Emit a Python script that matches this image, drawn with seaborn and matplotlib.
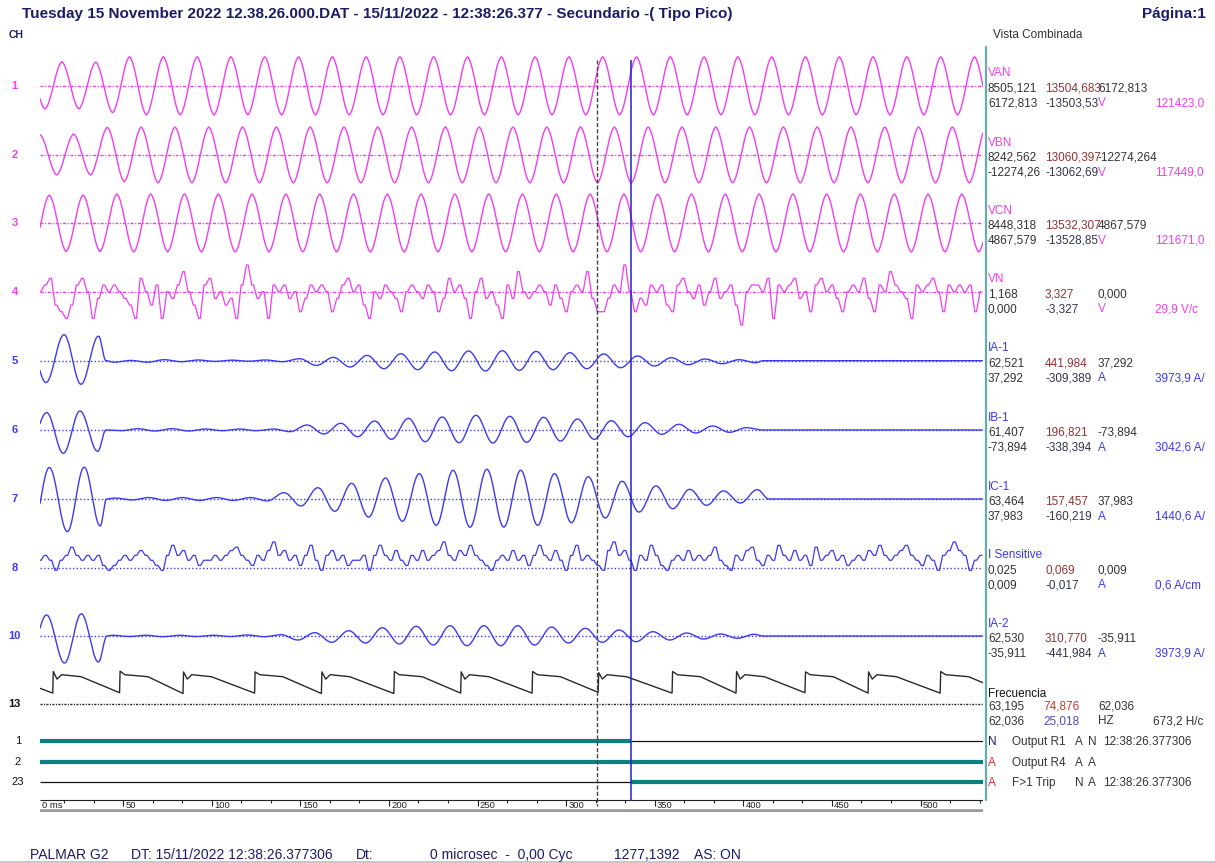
import numpy as np
import pandas as pd
import matplotlib
matplotlib.use("Agg")
import matplotlib.pyplot as plt
import seaborn as sns

# ------------------------------------------------------------------ data
HALF_CYCLE_MS = 9.537          # half period of the recorded waveforms
CURSOR_A_MS = 317.4            # dashed cursor
CURSOR_B_MS = 336.5            # blue cursor

# phase voltages: time of first extremum (ms) and alternating extrema (kV)
VAN_T0_MS = -3.61
VAN_KV = [10.95, -10.72, 11.32, -10.72, 11.18, -12.44, 13.65, -13.50,
          13.62, -13.48, 13.66, -13.52, 13.60, -13.46, 13.64, -13.50, 13.62, -13.49,
          13.65, -13.51, 13.61, -13.47, 13.63, -13.50, 13.66, -13.52, 13.60, -13.48,
          13.64, -13.50, 13.62, -13.49, 13.65, -13.51, 13.61, -13.47, 13.63, -13.50,
          13.66, -13.52, 13.60, -13.48, 13.64, -13.50, 13.62, -13.49, 13.65, -13.51,
          13.61, -13.47, 13.63, -13.50, 13.66, -13.52, 13.60, -13.48, 13.64, -13.50]
VBN_T0_MS = -6.55
VBN_KV = [-9.02, 9.25, -9.02, 9.47, -9.02, 12.49, -12.04, 12.63, -12.63,
          12.66, -12.60, 12.64, -12.62, 12.66, -12.60, 12.65, -12.61, 12.66, -12.60,
          12.64, -12.62, 12.66, -12.60, 12.65, -12.61, 12.66, -12.60, 12.64, -12.62,
          12.66, -12.60, 12.65, -12.61, 12.66, -12.60, 12.64, -12.62, 12.66, -12.60,
          12.65, -12.61, 12.66, -12.60, 12.64, -12.62, 12.66, -12.60, 12.65, -12.61,
          12.66, -12.60, 12.64, -12.62, 12.66, -12.60, 12.65, -12.61, 12.66, -12.60]
VCN_T0_MS = -1.19
VCN_KV = [-13.20, 13.20, -13.20, 13.25, -13.20, 13.70,
          -13.40, 13.70, -13.38, 13.72, -13.40, 13.68, -13.41, 13.70, -13.39, 13.71,
          -13.40, 13.70, -13.38, 13.72, -13.40, 13.68, -13.41, 13.70, -13.39, 13.71,
          -13.40, 13.70, -13.38, 13.72, -13.40, 13.68, -13.41, 13.70, -13.39, 13.71,
          -13.40, 13.70, -13.38, 13.72, -13.40, 13.68, -13.41, 13.70, -13.39, 13.71,
          -13.40, 13.70, -13.38, 13.72, -13.40, 13.68, -13.41, 13.70, -13.39, 13.71,
          -13.40, 13.70]

# neutral voltage, ADC counts every 3 ms from 3.1 ms
NOISE_T0_MS = 3.1
NOISE_STEP_MS = 3.0
VN_LSB_V = 0.555
VN_COUNTS = [0, 1, 2, -2, -3, -4, -2, 1, 2, 0, -4, -1, 1, 0, 1, 0, -1, -2, -4, 2,
             0, -2, 1, -4, 0, -1, 1, 3, 0, -2, -4, 1, 2, -1, 0, -2, -1, -4, 1, 4,
             1, -1, 0, -4, 1, 0, 1, -1, 0, -3, -1, 1, 0, 1, 0, -3, -1, 1, 2, 0,
             1, -2, -4, 0, -1, 1, 0, -1, -3, 0, 1, 0, -1, 1, 0, -3, -1, 2, 0, 1,
             -1, -4, 0, 2, -1, 0, -2, -4, 1, -1, 3, 0, -1, 0, 1, 0, -2, 1, -1, -3,
             0, 1, 0, 3, -1, -3, -3, -1, 1, 0, 4, 0, -3, -1, -2, 1, 0, 1, -2, -3,
             1, 2, 0, -1, 1, -2, 0, 2, -1, 0, 1, -2, -5, 0, 1, 1, 0, 2, -4, 1,
             0, 1, 2, -1, 0, -3, 1, 2, 0, 1, -1, -3, 0, 1, 0, 2, -1, -3, 1, 0,
             3, 1, 0, -1, -4, 1, 0, 1, 2, 0, -3, 1, 0, 1, 0, 1, -3, 0]

# sensitive earth current (mA) every 3 ms from 3.1 ms
ISENS_MA = [20, 33, 20, -7, 20, 33, 55, 33, 20, 33, 20, 33, 6, -7, 6, 20, 33, 20, 33, 46,
            33, 20, 6, -7, 33, 60, 33, 46, 20, 33, 6, 20, 20, 33, 20, 33, 46, 55, 33, 20,
            6, 33, 20, 46, 69, 33, 46, 20, 33, 6, 33, 60, 20, -7, 33, 46, 20, 33, 6, 20,
            20, 33, -7, 33, 60, 33, 20, 46, 20, 6, 33, 20, 46, 20, 33, 46, 69, 33, 20, 46,
            33, 60, 33, 20, 6, -7, 20, 33, 20, 46, 20, 33, 6, 33, 60, 33, 20, 46, 20, -7,
            33, 60, 20, 33, 20, 6, -7, 46, 69, 33, 46, 20, -7, 33, 20, 60, 33, 6, -7, 20,
            33, 20, 46, 20, 33, 20, 33, 55, 20, 6, -7, 33, 20, 46, 55, 20, 6, 33, 20, 60,
            33, 20, 46, 20, 33, 6, 55, 20, 33, 46, 20, 33, 6, 20, 33, 20, 46, 33, 60, 33,
            20, 33, 46, 60, 33, 20, 6, 33, 20, -7, 33, 46, 69, 46, 33, -7, 20, 33]

# phase currents: fault cycles (time ms, A), clearing, post-fault extrema (A)
IA1_PRE_MS = [-3.05, 6.49, 16.65, 26.24, 36.12]
IA1_PRE_A = [340, -371, 442, -400, 417]
IA1_CLEAR_MS = 40.35
IA1_POST_T0_MS = 44.64
IA1_POST_A = [-26, 5, -26, 17, -17, 12, -12, 9, -9, 12, -17, 34, -80, 56, -107, 90, -136, 119,
              -153, 148, -170, 165, -175, 170, -165, 158, -153, 136, -136, 114, -119, 80,
              -90, 51, -68, 29, -51, 17, -34]
IA1_FLAT_MS = 411.1

IB1_PRE_MS = [-2.65, 6.88, 16.25, 25.68, 35.67]
IB1_PRE_A = [-195, 225, -303, 247, -277]
IB1_CLEAR_MS = 40.35
IB1_POST_T0_MS = 48.87
IB1_POST_A = [-9, 17, -13, 17, -13, 13, -9, 13, -9, 13, -22, 65, -52, 87, -87, 117, -121, 152,
              -152, 169, -165, 191, -169, 178, -160, 165, -143, 143, -121, 121, -87, 95,
              -56, 74, -39, 52, -30, 30]
IB1_FLAT_MS = 411.1

IC1_PRE_MS = [-1.19, 8.35, 18.51, 28.05, 37.08]
IC1_PRE_A = [-192, 195, -202, 197, -167]
IC1_CLEAR_MS = 40.63
IC1_POST_T0_MS = 45.49
IC1_POST_A = [6, -6, 9, -9, 9, -9, 9, -9, 9, -12, 39, -43, 70, -76, 97, -112, 130, -138,
              157, -163, 178, -175, 184, -174, 178, -163, 157, -147, 138, -118, 110, -81,
              81, -60, 60, -39, 50, -25, 58]
IC1_FLAT_MS = 414.5

IA2_PRE_MS = [-2.77, 6.77, 16.93, 26.41, 36.06]
IA2_PRE_A = [-340, 357, -459, 377, -442]
IA2_CLEAR_MS = 40.91
IA2_POST_T0_MS = 43.79
IA2_POST_A = [12, -9, 12, -12, 12, -9, 12, -9, 17, -12, 22, -68, 56, -107, 90, -119, 141, -136,
              165, -153, 175, -165, 175, -165, 175, -153, 153, -119, 131, -107, 102, -97,
              73, -68, 51, -51, 34, -39, 29]
IA2_FLAT_MS = 411.1

# frequency channel: sawtooth teeth
FREQ_START_HZ = 59.0
FREQ_JUMP_MS = [10.3, 48.0, 83.8, 124.2, 161.9, 202.8, 240.5, 280.8, 318.1, 359.8,
                395.9, 434.8, 470.4, 511.1]
FREQ_LOW_HZ = [57.8, 57.9, 57.7, 57.8, 57.7, 57.7, 57.8, 57.8, 58.0, 57.8,
               57.8, 57.9, 57.8, 57.8]
FREQ_HIGH_HZ = [63.2, 63.3, 63.1, 63.1, 63.1, 63.2, 63.1, 63.2, 62.9, 63.2,
                63.2, 63.1, 63.1, 63.2]
FREQ_NOTCH = [1, 0, 1, 0, 1, 0, 1, 0, 1, 0, 1, 0, 1, 0]
FREQ_NOTCH_HZ = 61.3
FREQ_PLATEAU_HZ = 62.4
FREQ_PLATEAU_END_HZ = 61.9
FREQ_END_HZ = 60.4

# digital channels: state before / after the blue cursor
DIG_CHANGE_MS = 336.5
DIG_OUT_R1 = [1, 0]
DIG_OUT_R4 = [1, 1]
DIG_F1_TRIP = [0, 1]

TICK_MAJOR_MS = [50, 100, 150, 200, 250, 300, 350, 400, 450, 500]

# ------------------------------------------------------------------ layout / style
W, H = 1215, 863
X_LEFT_PX, X_RIGHT_PX = 40, 983
MS0_PX, PX_PER_MS = 34.5, 1.772
T_LEFT = (X_LEFT_PX - MS0_PX) / PX_PER_MS
T_RIGHT = (X_RIGHT_PX - MS0_PX) / PX_PER_MS
Y_TOP, Y_BOT = 40, 812

MAG = "#f23cf2"
BLUE = "#3a3af2"
TEAL = "#0b8080"
NAVY = "#1c1c66"
DARK = "#333333"
FS = 8.5
BL = 4.0   # centre -> baseline offset for panel text

sns.set_theme(style="white")
plt.rcParams['font.family'] = ['Liberation Sans', 'DejaVu Sans']

fig = plt.figure(figsize=(W / 100, H / 100), dpi=100)
ov = fig.add_axes([0, 0, 1, 1])
ov.set_xlim(0, W)
ov.set_ylim(H, 0)
ov.axis('off')

ax = fig.add_axes([X_LEFT_PX / W, 1 - Y_BOT / H, (X_RIGHT_PX - X_LEFT_PX) / W, (Y_BOT - Y_TOP) / H])

t = np.linspace(T_LEFT, T_RIGHT, 5000)


def shaped(tt, kt, kv, blend):
    kt = np.asarray(kt, float)
    kv = np.asarray(kv, float)
    i = np.clip(np.searchsorted(kt, tt, side='right') - 1, 0, len(kt) - 2)
    f = np.clip((tt - kt[i]) / (kt[i + 1] - kt[i]), 0, 1)
    s = blend * 0.5 * (1 - np.cos(np.pi * f)) + (1 - blend) * f
    return kv[i] + (kv[i + 1] - kv[i]) * s


def voltage(t0, vals):
    kt = t0 + HALF_CYCLE_MS * np.arange(len(vals))
    return shaped(t, kt, vals, 0.8)


def current(pre_t, pre_v, clear, post_t0, post_v, flat):
    post_t = post_t0 + HALF_CYCLE_MS * np.arange(len(post_v))
    kt = list(pre_t) + [clear] + list(post_t) + [flat, T_RIGHT + 20]
    kv = list(pre_v) + [0] + list(post_v) + [0, 0]
    return shaped(t, kt, kv, 1.0)


def trace(x, y, color, lw=1.0):
    df = pd.DataFrame({"t": x, "y": y})
    sns.lineplot(data=df, x="t", y="y", ax=ax, color=color, linewidth=lw,
                 estimator=None, sort=False, legend=False)


BASE = {1: 86, 2: 155, 3: 223.3, 4: 291.7, 5: 360.7, 6: 430, 7: 499, 8: 567.7, 10: 636, 13: 704.3}
DIG_Y = [740.7, 762, 782]

# baselines (dotted)
for ch, yb in BASE.items():
    if ch <= 4:
        col, ls = MAG, (0, (2.2, 1.2, 0.8, 1.2))
    elif ch <= 10:
        col, ls = BLUE, (0, (1, 1.6))
    else:
        col, ls = "#222222", (0, (1.5, 1.0, 0.8, 1.0))
    ax.hlines(yb, T_LEFT, T_RIGHT, colors=col, linestyles=ls, linewidth=1.0)

# voltages
trace(t, BASE[1] - voltage(VAN_T0_MS, VAN_KV) / 0.466, MAG)
trace(t, BASE[2] - voltage(VBN_T0_MS, VBN_KV) / 0.451, MAG)
trace(t, BASE[3] - voltage(VCN_T0_MS, VCN_KV) / 0.467, MAG)

# noise channels, each sample held briefly
tn = NOISE_T0_MS + NOISE_STEP_MS * np.arange(len(VN_COUNTS))
tn2 = np.column_stack([tn - 0.5, tn + 0.5]).ravel()
vn = np.repeat(np.array(VN_COUNTS) * VN_LSB_V, 2)
trace(tn2, BASE[4] - vn / 0.0832, MAG, 0.9)

ti = NOISE_T0_MS + NOISE_STEP_MS * np.arange(len(ISENS_MA))
ti2 = np.column_stack([ti - 0.6, ti + 0.6]).ravel()
isn = np.repeat(np.array(ISENS_MA, float), 2)
trace(ti2, BASE[8] - isn / 2.68, BLUE, 0.9)

# currents
trace(t, BASE[5] - current(IA1_PRE_MS, IA1_PRE_A, IA1_CLEAR_MS, IA1_POST_T0_MS, IA1_POST_A, IA1_FLAT_MS) / 17.0, BLUE)
trace(t, BASE[6] - current(IB1_PRE_MS, IB1_PRE_A, IB1_CLEAR_MS, IB1_POST_T0_MS, IB1_POST_A, IB1_FLAT_MS) / 13.0, BLUE)
trace(t, BASE[7] - current(IC1_PRE_MS, IC1_PRE_A, IC1_CLEAR_MS, IC1_POST_T0_MS, IC1_POST_A, IC1_FLAT_MS) / 6.2, BLUE)
trace(t, BASE[10] - current(IA2_PRE_MS, IA2_PRE_A, IA2_CLEAR_MS, IA2_POST_T0_MS, IA2_POST_A, IA2_FLAT_MS) / 17.0, BLUE)

# frequency
fx_, fy_ = [T_LEFT], [FREQ_START_HZ]
for j, tj in enumerate(FREQ_JUMP_MS):
    fx_ += [tj, tj + 0.3]
    fy_ += [FREQ_LOW_HZ[j], FREQ_HIGH_HZ[j]]
    if FREQ_NOTCH[j]:
        fx_ += [tj + 2.4, tj + 5.0]
        fy_ += [FREQ_NOTCH_HZ, FREQ_PLATEAU_HZ]
    else:
        fx_ += [tj + 3.0]
        fy_ += [FREQ_PLATEAU_HZ]
    fx_ += [tj + 16.0]
    fy_ += [FREQ_PLATEAU_END_HZ]
fx_ += [T_RIGHT]
fy_ += [FREQ_END_HZ]
trace(np.array(fx_), BASE[13] - (np.array(fy_) - 55.0) / 0.25, "#2a2a2a", 1.0)

# digital channels
for yd, states in zip(DIG_Y, [DIG_OUT_R1, DIG_OUT_R4, DIG_F1_TRIP]):
    segs = [(T_LEFT, DIG_CHANGE_MS), (DIG_CHANGE_MS, T_RIGHT)]
    for (a, b), s in zip(segs, states):
        if s:
            ax.hlines(yd, a, b, colors=TEAL, linewidth=3.0, zorder=3)
        else:
            ax.hlines(yd, a, b, colors="#111111", linewidth=0.9, zorder=3)

# cursors
ax.vlines(CURSOR_A_MS, 60, 806, colors="#444444", linestyles=(0, (3, 1.5)), linewidth=1.0, zorder=6)
ax.vlines(CURSOR_B_MS, 60, 801, colors="#2020c8", linewidth=1.1, zorder=6)

# time axis strip
ax.hlines(799.5, T_LEFT, T_RIGHT, colors="#222222", linewidth=0.8)
ax.hlines(810.5, T_LEFT, T_RIGHT, colors="#9a9a9a", linewidth=2.6)
minor = np.arange(50 / 3, T_RIGHT, 50 / 3)
minor = [m for m in minor if abs(m / 50 - round(m / 50)) > 1e-6 and m > T_LEFT]
ax.vlines(minor, 799.5, 802.5, colors="#222222", linewidth=0.8)
ax.vlines(TICK_MAJOR_MS, 799.5, 805.5, colors="#222222", linewidth=0.8)
tick_font = ['Liberation Sans Narrow', 'Liberation Sans', 'DejaVu Sans']
for m in TICK_MAJOR_MS:
    ax.text(m + 1.3, 805.5, f"{m}", fontsize=6.8, color="#222222", ha='left', va='center', family=tick_font)
ax.text(T_LEFT + 1.0, 805.5, "0 ms", fontsize=6.8, color="#222222", ha='left', va='center', family=tick_font)

ax.set_xlim(T_LEFT, T_RIGHT)
ax.set_ylim(Y_BOT, Y_TOP)
ax.axis('off')

# ------------------------------------------------------------------ texts
ov.text(22, 14, "Tuesday 15 November 2022 12.38.26.000.DAT - 15/11/2022 - 12:38:26.377 - Secundario -( Tipo Pico)",
        fontsize=11, fontweight='bold', color=NAVY, ha='left', va='center')
ov.text(1206, 14, "Página:1", fontsize=11, fontweight='bold', color=NAVY, ha='right', va='center')
ov.text(9, 35, "CH", fontsize=7.5, fontweight='bold', color=NAVY, ha='left', va='center')
ov.text(993, 34 + BL, "Vista Combinada", fontsize=FS, color=DARK, ha='left', va='baseline')

for ch, yb in BASE.items():
    col = MAG if ch <= 4 else (BLUE if ch <= 10 else "#111111")
    ov.text(14.5, yb, str(ch), fontsize=8, fontweight='bold', color=col, ha='center', va='center')
for lab, yd in zip(["1", "2", "23"], DIG_Y):
    ov.text(18, yd, lab, fontsize=8, color="#111111", ha='center', va='center')

# right-hand vertical rule
ov.plot([985.5, 985.5], [47, 800], color="#68adad", linewidth=1.6)


def ptxt(x, y, s, color):
    ov.text(x, y + BL, s, fontsize=FS, color=color, ha='left', va='baseline')


MAXC = "#8f3434"
MINC = "#33334d"
PANEL = [
    (1, "VAN", MAG, ["8505,121", "13504,683", "6172,813"], ["6172,813", "-13503,53", "V", "121423,0"]),
    (2, "VBN", MAG, ["8242,562", "13060,397", "-12274,264"], ["-12274,26", "-13062,69", "V", "117449,0"]),
    (3, "VCN", MAG, ["8448,318", "13532,307", "4867,579"], ["4867,579", "-13528,85", "V", "121671,0"]),
    (4, "VN", MAG, ["1,168", "3,327", "0,000"], ["0,000", "-3,327", "V", "29,9 V/c"]),
    (5, "IA-1", BLUE, ["62,521", "441,984", "37,292"], ["37,292", "-309,389", "A", "3973,9 A/"]),
    (6, "IB-1", BLUE, ["61,407", "196,821", "-73,894"], ["-73,894", "-338,394", "A", "3042,6 A/"]),
    (7, "IC-1", BLUE, ["63,464", "157,457", "37,983"], ["37,983", "-160,219", "A", "1440,6 A/"]),
    (8, "I Sensitive", BLUE, ["0,025", "0,069", "0,009"], ["0,009", "-0,017", "A", "0,6 A/cm"]),
    (10, "IA-2", BLUE, ["62,530", "310,770", "-35,911"], ["-35,911", "-441,984", "A", "3973,9 A/"]),
]
C1, C2, C3, C4 = 988, 1045, 1098, 1155
for ch, lab, col, r1, r2 in PANEL:
    yb = BASE[ch]
    ptxt(C1, yb - 13.5, lab, col)
    ptxt(C1, yb + 1.5, r1[0], DARK)
    ptxt(C2, yb + 1.5, r1[1], MAXC)
    ptxt(C3, yb + 1.5, r1[2], DARK)
    ptxt(C1, yb + 16.5, r2[0], DARK)
    ptxt(C2, yb + 16.5, r2[1], MINC)
    ptxt(C3, yb + 16.5, r2[2], col)
    ptxt(C4, yb + 16.5, r2[3], col)

ptxt(C1, 692.7, "Frecuencia", "#111111")
ptxt(C1, 705.5, "63,195", DARK)
ptxt(1043, 705.5, "74,876", "#cc3333")
ptxt(C3, 705.5, "62,036", DARK)
ptxt(C1, 720, "62,036", DARK)
ptxt(1043, 720, "25,018", "#4b4bb0")
ptxt(C3, 720, "HZ", DARK)
ptxt(1153, 720, "673,2 H/c", DARK)

DIG_ROWS = [("N", NAVY, "Output R1", "A", "N", "12:38:26.377306"),
            ("A", "#e03030", "Output R4", "A", "A", ""),
            ("A", "#e03030", "F>1 Trip", "N", "A", "12:38:26.377306")]
for yd, (s0, c0, name, s1, s2, ts) in zip(DIG_Y, DIG_ROWS):
    ptxt(C1, yd, s0, c0)
    ptxt(1011.7, yd, name, DARK)
    ptxt(1075, yd, s1, DARK)
    ptxt(1088, yd, s2, DARK)
    if ts:
        ptxt(1102.7, yd, ts, DARK)

# footer
FOOT = [(30, "PALMAR G2"), (131, "DT: 15/11/2022 12:38:26.377306"), (356, "Dt:"),
        (430, "0 microsec  -  0,00 Cyc"), (614, "1277,1392"), (694, "AS: ON")]
for x, s in FOOT:
    ov.text(x, 855, s, fontsize=10, color=NAVY, ha='left', va='center')
ov.plot([0, W], [861.5, 861.5], color="#c8c8c8", linewidth=1.5)

fig.savefig("out.png", dpi=100)
